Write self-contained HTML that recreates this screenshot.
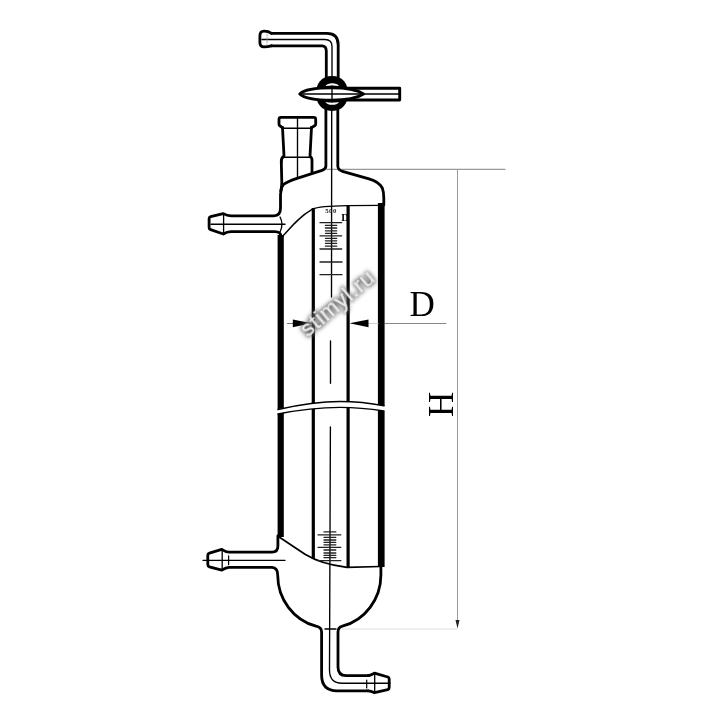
<!DOCTYPE html>
<html><head><meta charset="utf-8"><style>
html,body{margin:0;padding:0;background:#fff;width:720px;height:720px;overflow:hidden}
svg{display:block}
</style></head><body>
<svg width="720" height="720" viewBox="0 0 720 720">
<g fill="none" stroke="#000" stroke-linecap="round" stroke-linejoin="round">

<!-- dimension lines -->
<line x1="327" y1="169.4" x2="505" y2="169.4" stroke="#999" stroke-width="1.4"/>
<line x1="457.5" y1="170" x2="457.5" y2="622" stroke="#9a9a9a" stroke-width="1"/>
<line x1="385" y1="323.5" x2="446" y2="323.5" stroke="#888" stroke-width="1"/>
<line x1="340" y1="629" x2="457" y2="629" stroke="#ddd" stroke-width="1"/>
<path d="M455.5 620 L459.5 620 L457.5 628.5 Z" fill="#222" stroke="none"/>

<!-- top L tube -->
<g stroke-width="2.8">
<path d="M271.5 33.4 L327 33.4 Q338.2 33.4 338.2 45 L338.2 77"/>
<path d="M271.5 45.8 L322 45.8 Q326.3 45.8 326.3 51 L326.3 77"/>
<path d="M271.5 33.4 C269 31.5 267.5 31.2 264 31.2 C261 31.2 259.9 33 259.9 36 L259.9 42.5 C259.9 45.5 261 46.9 264 46.9 C267.5 46.9 269 46.5 271.5 45.8"/>
</g>
<path d="M262 39.5 L325 39.5 Q332 39.5 332 46.5 L332 77" stroke-width="1.35"/>
<line x1="267" y1="34" x2="267" y2="45" stroke="#999" stroke-width="0.8" stroke-dasharray="2 1.5"/>

<!-- stopcock ball -->
<path d="M332 75.9 C343 75.9 348 84 348 93.5 C348 103 343 110.9 332 110.9 C321 110.9 316 103 316 93.5 C316 84 321 75.9 332 75.9 Z" fill="#000" stroke="none"/>
<path d="M325.5 86 C327.5 82.2 337 82.2 339 86 C335 85.2 329.5 85.2 325.5 86 Z" fill="#fff" stroke="none"/>
<path d="M325.5 102 C329.5 102.8 335 102.8 339 102 C337 105.8 327.5 105.8 325.5 102 Z" fill="#fff" stroke="none"/>
<!-- plug lens -->
<path d="M299.8 94 C304 89.8 314 87.8 332 87.8 C348 87.8 357 89.8 363.5 94 C357 98.2 348 100.2 332 100.2 C314 100.2 304 98.2 299.8 94 Z" fill="#fff" stroke-width="3"/>
<line x1="303" y1="94" x2="362" y2="94" stroke-width="1.4"/>
<line x1="332" y1="86" x2="332" y2="102" stroke-width="1.35"/>
<!-- right arm -->
<path d="M346 88.3 L399.7 88.3 L399.7 100 L346 100" stroke-width="2.9"/>
<line x1="362" y1="94.1" x2="399" y2="94.1" stroke-width="1.5"/>

<!-- stem -->
<g stroke-width="2.8">
<path d="M325.9 109 L325.9 166 Q325.9 169.2 322 170.3 L297 178.3 Q287.5 181.3 283.5 184.5 Q281.2 187 280.7 191"/>
<path d="M337.8 109 L337.8 166 Q338 170 342.5 171.3 L369 178.8 Q379 181.5 382.3 188 Q383.8 192 383.8 198 L383.8 205"/>
</g>
<line x1="331.7" y1="110" x2="331.5" y2="297" stroke-width="1.35"/>

<!-- socket -->
<g stroke-width="2.8">
<path d="M282.7 127.8 L279.5 125.5 Q279 125 279 124 L279 119.3 Q279 117.3 281 117.3 L313.7 117.3 Q315.7 117.3 315.7 119.3 L315.7 124 Q315.7 125 315 125.5 L311.3 127.8"/>
<path d="M282.5 127.5 L284 156 Q281 158 281.3 162"/>
<path d="M311.5 127.5 L310 156 Q312.5 158 312 162 L312 173"/>
</g>
<line x1="283" y1="128.2" x2="311" y2="128.2" stroke-width="1.35"/>
<line x1="284" y1="157.2" x2="310" y2="157.2" stroke-width="1.4"/>
<line x1="297.5" y1="117" x2="297.5" y2="177" stroke-width="1.35"/>

<!-- shoulders -->
<g stroke-width="2.8">
<path d="M281.3 162 L281.8 183 Q281.6 189 280.5 194.5 L280.5 208 Q280.5 215.8 274 215.8 L231 215.8 Q227 215.8 223.3 213.6 L210.6 216.7 Q209.1 217.1 209.1 218.6 L209.1 227.6 Q209.1 229.1 210.6 229.6 L223.3 234 Q227 231.6 231 231.6 L275 231.6 Q280.5 231.7 281 236"/>
</g>

<!-- upper side arm -->
<g stroke-width="2.8">
</g>
<line x1="223.6" y1="214" x2="223.6" y2="233.7" stroke-width="1.3"/>
<line x1="211" y1="224.2" x2="285" y2="224.2" stroke-width="1.35"/>
<path d="M280 217 Q284 224 280 232" stroke-width="1.35"/>

<!-- outer thick walls -->
<rect x="277.6" y="235" width="6.2" height="302" fill="#000" stroke="none"/>
<rect x="377.9" y="203" width="6.7" height="364" fill="#000" stroke="none"/>

<!-- inner tube walls -->
<rect x="311.7" y="208" width="3.2" height="351" fill="#000" stroke="none"/>
<rect x="346.5" y="205" width="3.2" height="363" fill="#000" stroke="none"/>

<!-- thin top curve -->
<path d="M283 236 C291 226.8 300 216 312.5 209.1 C318 206.5 330 205.8 347 205.6 L381 205.4" stroke-width="1.4"/>
<!-- thin bottom curve -->
<path d="M279.5 537.2 L305 554.2 C315 560.3 330 565.2 347 567.3 L380 566.5" stroke-width="1.7"/>

<!-- break band -->
<path d="M276 409.5 C300 404.5 322 401.5 340 401.5 C356 401.5 370 403 386 406.2 L386 411.4 C370 408.8 356 407.4 340 407.4 C322 407.5 300 409.7 276 414 Z" fill="#fff" stroke="none"/>
<path d="M278 409.5 C300 404.5 322 401.5 340 401.5 C356 401.5 370 403 384 405.8" stroke-width="1.4"/>
<path d="M278 414 C300 409.7 322 407.5 340 407.4 C356 407.4 370 408.8 384 411" stroke-width="1.4"/>

<!-- center line segments -->
<line x1="330.5" y1="341" x2="330.5" y2="383.3" stroke-width="1.35"/>
<path d="M330.4 427 L329.5 670 Q329.5 683.2 342 683.2 L390 683.2" stroke-width="1.35"/>

<!-- ticks upper -->
<g stroke-width="1.3" stroke="#222">
<line x1="320" y1="222.7" x2="341.7" y2="222.7"/>
<line x1="320" y1="235.8" x2="341.7" y2="235.8"/>
<line x1="320" y1="249" x2="341.7" y2="249"/>
<line x1="325.4" y1="225.4" x2="336.7" y2="225.4"/>
<line x1="325.4" y1="228" x2="336.7" y2="228"/>
<line x1="325.4" y1="230.8" x2="336.7" y2="230.8"/>
<line x1="325.4" y1="233.3" x2="336.7" y2="233.3"/>
<line x1="325.4" y1="238.3" x2="336.7" y2="238.3"/>
<line x1="325.4" y1="240.8" x2="336.7" y2="240.8"/>
<line x1="325.4" y1="243.3" x2="336.7" y2="243.3"/>
<line x1="325.4" y1="246.2" x2="336.7" y2="246.2"/>
<line x1="320" y1="262" x2="342" y2="262"/>
<line x1="320" y1="274.7" x2="342" y2="274.7"/>
</g>
<!-- ticks lower -->
<g stroke-width="1.3" stroke="#222">
<line x1="318" y1="534.8" x2="340.8" y2="534.8"/>
<line x1="318" y1="547.3" x2="340.8" y2="547.3"/>
<line x1="318" y1="560.7" x2="340.8" y2="560.7"/>
<line x1="324" y1="531.9" x2="335.8" y2="531.9"/>
<line x1="324" y1="537.3" x2="335.8" y2="537.3"/>
<line x1="324" y1="540" x2="335.8" y2="540"/>
<line x1="324" y1="542.3" x2="335.8" y2="542.3"/>
<line x1="324" y1="544.8" x2="335.8" y2="544.8"/>
<line x1="324" y1="550" x2="335.8" y2="550"/>
<line x1="324" y1="553" x2="335.8" y2="553"/>
<line x1="324" y1="555.4" x2="335.8" y2="555.4"/>
<line x1="324" y1="557.7" x2="335.8" y2="557.7"/>
</g>
<g opacity="0.99"><text x="325.3" y="212.8" font-family="Liberation Serif" font-size="6.8" font-weight="bold" letter-spacing="0.4" fill="#1a1a1a" stroke="none">500</text>
<text x="341.2" y="220.8" font-family="Liberation Serif" font-size="10.5" font-weight="bold" fill="#000" stroke="none">D</text></g>

<!-- lower side arm -->
<g stroke-width="2.8">
<path d="M277.9 536 L277.9 546 Q277.9 552.2 272 552.2 L229 552.2 Q226 552.2 221.8 549.4 L209.4 553.1 Q207.8 553.6 207.8 555.3 L207.8 564.6 Q207.8 566.3 209.4 566.8 L221.8 570.2 Q226 567.3 229 567.3 L272 567.3 Q277.7 567.5 277.7 575 A51.5 53 0 0 0 316 626.2 Q321.6 627.2 321.6 632 L321.6 675 Q321.6 690.8 337 690.8 L368 690.8"/>
</g>
<line x1="222.2" y1="550" x2="222.2" y2="569.7" stroke-width="1.3"/>
<line x1="228.6" y1="555.8" x2="228.6" y2="564.7" stroke-width="1.2"/>
<line x1="203" y1="560.3" x2="285" y2="560.3" stroke-width="1.35"/>

<!-- bottom dome -->
<g stroke-width="2.8">
<path d="M380.9 567 L380.9 575 A51.7 53 0 0 1 342.4 626.2 Q338 627.2 338 632 L338 667 Q338 675.6 346 675.6 L369 675.6"/>
<path d="M368 675.6 Q371 675.6 374.5 673.2 L387.8 677 Q389.2 677.6 389.2 679 L389.2 687.8 Q389.2 689.2 387.8 689.7 L374.5 692.7 Q371 690.8 368 690.8"/>
</g>
<line x1="374.7" y1="673.5" x2="374.7" y2="692.5" stroke-width="1.3"/>
<line x1="366.7" y1="680" x2="366.7" y2="688" stroke-width="1.2"/>
<line x1="325" y1="629" x2="336" y2="629" stroke-width="1.35"/>

<!-- arrows for D -->
<line x1="287.5" y1="323.5" x2="300" y2="323.5" stroke="#777" stroke-width="1"/>
<line x1="362" y1="323.5" x2="378" y2="323.5" stroke="#d0d0d0" stroke-width="1"/>
<path d="M292.8 319.6 L311.5 323.3 L292.8 327.2 Z" fill="#000" stroke="none"/>
<path d="M368.5 319.6 L349.5 323.3 L368.5 327.2 Z" fill="#000" stroke="none"/>

</g>

<!-- labels -->
<g opacity="0.99"><text x="409.5" y="315.8" font-family="Liberation Serif" font-size="35" fill="#000">D</text>
<text transform="translate(452.5 417) rotate(-90)" font-family="Liberation Serif" font-size="35" fill="#000">H</text></g>

<!-- watermark -->
<defs><filter id="wm" x="-20%" y="-50%" width="140%" height="200%"><feMorphology operator="dilate" radius="1.4" in="SourceAlpha" result="d"/><feGaussianBlur in="d" stdDeviation="2" result="b"/><feFlood flood-color="#5a5a5a"/><feComposite in2="b" operator="in" result="sh"/><feMerge><feMergeNode in="sh"/><feMergeNode in="SourceGraphic"/></feMerge></filter></defs>
<text transform="translate(307.8 337.6) rotate(-40)" font-family="Liberation Sans" font-size="22" letter-spacing="0.9" fill="#ececec" filter="url(#wm)">stimyl.ru</text>
</svg>
</body></html>
